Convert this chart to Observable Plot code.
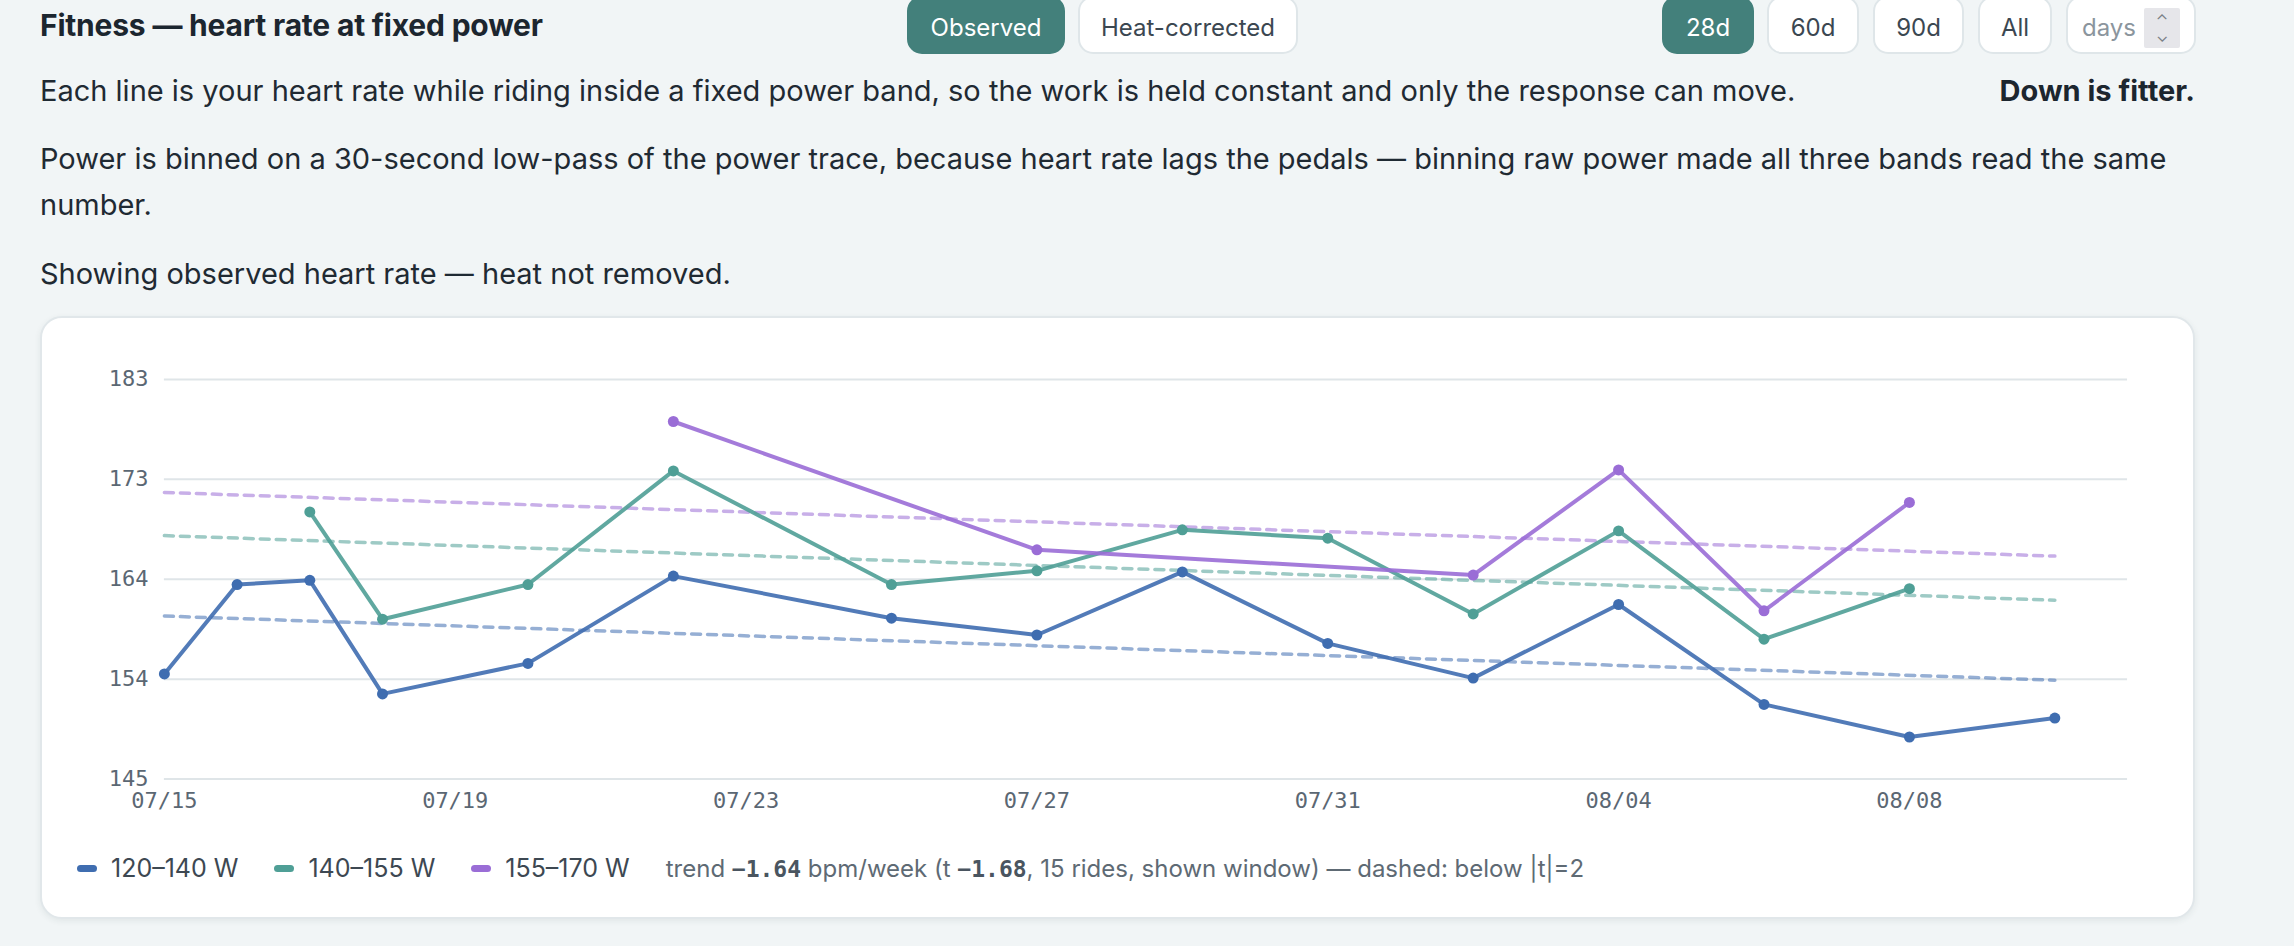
<!DOCTYPE html>
<html>
<head>
<meta charset="utf-8">
<script src="https://cdn.jsdelivr.net/npm/d3@7"></script>
<script src="https://cdn.jsdelivr.net/npm/@observablehq/plot@0.6"></script>
<style>
  html, body { margin: 0; padding: 0; }
  body { width: 2294px; height: 946px; background: #f1f5f6; font-family: Inter, "Noto Sans", sans-serif; color: #1f2a33; position: relative; overflow: hidden; }
  .abs { position: absolute; }
  #title { left: 40px; top: 5px; font-size: 30px; font-weight: 700; color: #1c262f; line-height: 40px; letter-spacing: -0.2px; }
  .btn { position: absolute; top: -4px; height: 58px; box-sizing: border-box; border-radius: 15px; border: 2px solid #dfe6e9; background: #fff; color: #3b4751; font-size: 24px; display: flex; align-items: center; justify-content: center; padding-top: 4px; }
  .btn.on { background: #43807b; border-color: #43807b; color: #fff; }
  .p { left: 40px; font-size: 29px; line-height: 46px; color: #1f2a33; }
  #down { right: 99px; top: 68px; font-size: 29px; line-height: 46px; font-weight: 700; color: #1c262f; }
  #card { left: 40px; top: 316px; width: 2155px; height: 603px; box-sizing: border-box; background: #fff; border: 2px solid #e1e7ea; border-radius: 22px; box-shadow: 0 2px 6px rgba(40,60,70,0.08); }
  #chart { position: absolute; left: -2px; top: -2px; }
  #legend { position: absolute; left: 35px; top: 534px; height: 32px; display: flex; align-items: center; font-size: 25px; color: #3d4852; white-space: nowrap; }
  .sw { display: inline-block; width: 20px; height: 7px; border-radius: 4px; margin-right: 14px; }
  .item { display: flex; align-items: center; margin-right: 36px; }
  #trend { color: #5e6a74; font-size: 24px; }
  #trend b { font-family: "DejaVu Sans Mono", monospace; font-weight: 700; color: #4a5560; font-size: 23px; }
</style>
</head>
<body>
<div id="title" class="abs">Fitness — heart rate at fixed power</div>
<div class="btn on" style="left:907px;width:158px;">Observed</div>
<div class="btn" style="left:1078px;width:220px;">Heat-corrected</div>
<div class="btn on" style="left:1662px;width:92px;">28d</div>
<div class="btn" style="left:1767px;width:92px;">60d</div>
<div class="btn" style="left:1873px;width:91px;">90d</div>
<div class="btn" style="left:1978px;width:74px;">All</div>
<div class="btn" style="left:2066px;width:130px;justify-content:flex-start;padding-left:14px;color:#8b959d;">days
  <span style="position:absolute;right:14px;top:10px;width:36px;height:40px;background:#e6e6ea;border-radius:2px;display:flex;flex-direction:column;align-items:center;justify-content:center;font-size:16px;line-height:16px;color:#7a7f86;">⌃<span style="transform:rotate(180deg);display:inline-block;">⌃</span></span>
</div>
<div class="p abs" style="top:68px;">Each line is your heart rate while riding inside a fixed power band, so the work is held constant and only the response can move.</div>
<div id="down" class="abs">Down is fitter.</div>
<div class="p abs" style="top:136px;width:2155px;">Power is binned on a 30-second low-pass of the power trace, because heart rate lags the pedals — binning raw power made all three bands read the same number.</div>
<div class="p abs" style="top:251px;">Showing observed heart rate — heat not removed.</div>
<div id="card" class="abs">
  <div id="chart"></div>
  <div id="legend"></div>
</div>
<script>
// ---- data ----
const bandNames = ["120–140 W", "140–155 W", "155–170 W"];
const bandColors = ["#3f6db0", "#4f9f96", "#9a6dd6"];

const band1Dates = ["2025-07-15","2025-07-16","2025-07-17","2025-07-18","2025-07-20","2025-07-22","2025-07-25","2025-07-27","2025-07-29","2025-07-31","2025-08-02","2025-08-04","2025-08-06","2025-08-08","2025-08-10"];
const band1HR    = [155.0, 163.5, 163.9, 153.1, 156.0, 164.3, 160.3, 158.7, 164.7, 157.9, 154.6, 161.6, 152.1, 149.0, 150.8];

const band2Dates = ["2025-07-17","2025-07-18","2025-07-20","2025-07-22","2025-07-25","2025-07-27","2025-07-29","2025-07-31","2025-08-02","2025-08-04","2025-08-06","2025-08-08"];
const band2HR    = [170.4, 160.2, 163.5, 174.3, 163.5, 164.8, 168.7, 167.9, 160.7, 168.6, 158.3, 163.1];

const band3Dates = ["2025-07-22","2025-07-27","2025-08-02","2025-08-04","2025-08-06","2025-08-08"];
const band3HR    = [179.0, 166.8, 164.4, 174.4, 161.0, 171.3];

const trendDates = ["2025-07-15", "2025-08-10"];
const trendStart = [160.5, 168.15, 172.25];
const trendEnd   = [154.4, 162.0, 166.2];

const xDomain = ["2025-07-15", "2025-08-11"];
const xTickDates = ["2025-07-15","2025-07-19","2025-07-23","2025-07-27","2025-07-31","2025-08-04","2025-08-08"];
const yDomain = [145, 183];
const yTickValues = [145, 154.5, 164, 173.5, 183];
const yTickLabels = ["145", "154", "164", "173", "183"];

const trendSlope = "−1.64";
const trendT = "−1.68";
const rideCount = 15;

// ---- build tables ----
const parse = d3.utcParse("%Y-%m-%d");
const rows = [];
[[band1Dates, band1HR], [band2Dates, band2HR], [band3Dates, band3HR]].forEach(([ds, vs], k) => {
  ds.forEach((d, i) => rows.push({band: bandNames[k], date: parse(d), hr: vs[i]}));
});
const trendRows = [];
bandNames.forEach((b, k) => {
  trendRows.push({band: b, date: parse(trendDates[0]), hr: trendStart[k]});
  trendRows.push({band: b, date: parse(trendDates[1]), hr: trendEnd[k]});
});

const chart = Plot.plot({
  width: 2155,
  height: 501,
  marginLeft: 124,
  marginRight: 66,
  marginTop: 63,
  marginBottom: 38,
  style: {fontFamily: "'DejaVu Sans Mono', monospace", fontSize: "22px", color: "#5b6773", background: "transparent", overflow: "visible"},
  x: {type: "utc", domain: xDomain.map(parse), ticks: xTickDates.map(parse), tickFormat: d3.utcFormat("%m/%d"), tickSize: 0, tickPadding: 13, label: null},
  y: {domain: yDomain, ticks: yTickValues, tickFormat: d => yTickLabels[yTickValues.indexOf(d)], tickSize: 0, tickPadding: 16, label: null},
  color: {domain: bandNames, range: bandColors},
  marks: [
    Plot.ruleY(yTickValues, {stroke: "#dfe5e8", strokeWidth: 2}),
    Plot.line(trendRows, {x: "date", y: "hr", z: "band", stroke: "band", strokeWidth: 3.5, strokeDasharray: "9,7", strokeOpacity: 0.55}),
    Plot.line(rows, {x: "date", y: "hr", z: "band", stroke: "band", strokeWidth: 4, strokeOpacity: 0.9}),
    Plot.dot(rows, {x: "date", y: "hr", fill: "band", r: 5.5})
  ]
});
document.getElementById("chart").append(chart);

// ---- legend ----
const legend = document.getElementById("legend");
bandNames.forEach((b, k) => {
  const it = document.createElement("div");
  it.className = "item";
  it.innerHTML = `<span class="sw" style="background:${bandColors[k]}"></span>${b}`;
  legend.append(it);
});
const tr = document.createElement("div");
tr.id = "trend";
tr.innerHTML = `trend <b>${trendSlope}</b> bpm/week (t <b>${trendT}</b>, ${rideCount} rides, shown window) — dashed: below |t|=2`;
legend.append(tr);
</script>
</body>
</html>
